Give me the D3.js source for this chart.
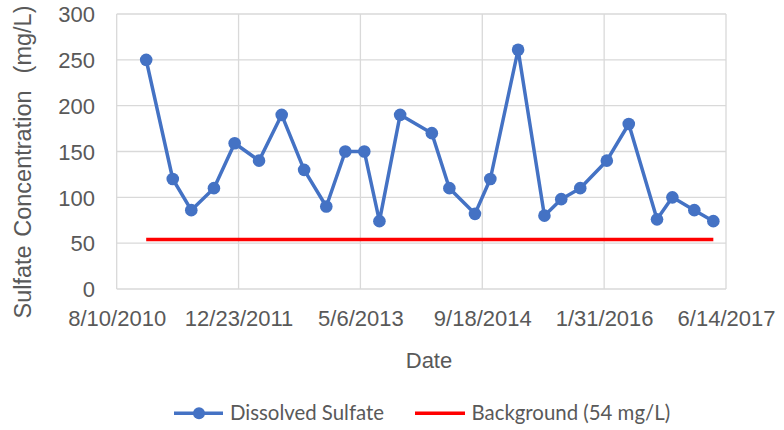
<!DOCTYPE html>
<html>
<head>
<meta charset="utf-8">
<script src="https://cdn.jsdelivr.net/npm/d3@7"></script>
<style>
  html, body { margin: 0; padding: 0; background: #fff; }
  svg text { white-space: pre; }
</style>
</head>
<body>
<svg id="chart" width="784" height="430"></svg>
<script>
const sampleDates = [
  "2010-12-09","2011-03-28","2011-06-12","2011-09-13","2011-12-07","2012-03-16",
  "2012-06-17","2012-09-17","2012-12-17","2013-03-05","2013-05-22","2013-07-23",
  "2013-10-16","2014-02-23","2014-05-06","2014-08-19","2014-10-21","2015-02-12",
  "2015-05-31","2015-08-08","2015-10-25","2016-02-11","2016-05-11","2016-09-04",
  "2016-11-06","2017-02-04","2017-04-23"
];
const sulfateValues = [
  250, 120, 86, 110, 159, 140,
  190, 130, 90, 150, 150, 74,
  190, 170, 110, 82, 120, 261,
  80, 98, 110, 140, 180, 76,
  100, 86, 74
];
const backgroundValue = 54;
const xTickDates = ["2010-08-10","2011-12-23","2013-05-06","2014-09-18","2016-01-31","2017-06-14"];
const yTickValues = [0, 50, 100, 150, 200, 250, 300];
const seriesNames = ["Dissolved Sulfate", "Background (54 mg/L)"];
const xTitle = "Date";
const yTitle = "Sulfate Concentration  (mg/L)";

(function () {
const parse = d3.utcParse("%Y-%m-%d");
const data = sampleDates.map((d, i) => ({ date: parse(d), value: sulfateValues[i] }));
const xTicks = xTickDates.map(parse);

const svg = d3.select("#chart");
const pLeft = 116.7, pRight = 726, pTop = 14, pBottom = 289;
const textColor = "#595959";
const gridColor = "#d9d9d9";
const blue = "#4472C4";
const red = "#FF0000";

const x = d3.scaleUtc().domain([xTicks[0], xTicks[xTicks.length - 1]]).range([pLeft, pRight]);
const y = d3.scaleLinear().domain([0, 300]).range([pBottom, pTop]);

const fmt = d => `${d.getUTCMonth() + 1}/${d.getUTCDate()}/${d.getUTCFullYear()}`;

// gridlines
const g = svg.append("g");
g.selectAll("line.h").data(yTickValues).join("line")
  .attr("x1", pLeft).attr("x2", pRight)
  .attr("y1", d => y(d)).attr("y2", d => y(d))
  .attr("stroke", gridColor).attr("stroke-width", 1.3);
g.selectAll("line.v").data(xTicks).join("line")
  .attr("x1", d => x(d)).attr("x2", d => x(d))
  .attr("y1", pTop).attr("y2", pBottom)
  .attr("stroke", gridColor).attr("stroke-width", 1.3);

// axes (labels only)
const yAxis = d3.axisLeft(y).tickValues(yTickValues).tickSize(0).tickPadding(0);
const ya = svg.append("g").attr("transform", `translate(95,0)`).call(yAxis);
ya.select(".domain").remove();
ya.selectAll("text").attr("fill", textColor)
  .style("font-family", "Liberation Sans, Arial, sans-serif").style("font-size", "22px")
  .attr("x", 0).attr("dy", "0.35em");

const xAxis = d3.axisBottom(x).tickValues(xTicks).tickFormat(fmt).tickSize(0).tickPadding(0);
const xa = svg.append("g").attr("transform", `translate(0,${pBottom})`).call(xAxis);
xa.select(".domain").remove();
xa.selectAll("text").attr("fill", textColor)
  .style("font-family", "Liberation Sans, Arial, sans-serif").style("font-size", "22px")
  .attr("y", 37).attr("dy", 0);

// titles
svg.append("text").attr("x", 429).attr("y", 368).attr("text-anchor", "middle")
  .attr("fill", textColor).style("font-family", "Liberation Sans, Arial, sans-serif")
  .style("font-size", "22px").text(xTitle);
svg.append("text").attr("transform", "translate(31,162) rotate(-90)").attr("text-anchor", "middle")
  .attr("fill", textColor).style("font-family", "Liberation Sans, Arial, sans-serif")
  .style("font-size", "23.5px").style("word-spacing", "2px").text(yTitle);

// background line
svg.append("line")
  .attr("x1", x(data[0].date)).attr("x2", x(data[data.length - 1].date))
  .attr("y1", y(backgroundValue)).attr("y2", y(backgroundValue))
  .attr("stroke", red).attr("stroke-width", 3.5);

// sulfate series
const line = d3.line().x(d => x(d.date)).y(d => y(d.value));
svg.append("path").datum(data).attr("d", line)
  .attr("fill", "none").attr("stroke", blue).attr("stroke-width", 3.5).attr("stroke-linejoin", "round");
svg.selectAll("circle.pt").data(data).join("circle")
  .attr("cx", d => x(d.date)).attr("cy", d => y(d.value)).attr("r", 6.3).attr("fill", blue);

// legend
const ly = 413.3;
svg.append("line").attr("x1", 174).attr("x2", 223).attr("y1", ly).attr("y2", ly)
  .attr("stroke", blue).attr("stroke-width", 3.5);
svg.append("circle").attr("cx", 199).attr("cy", ly).attr("r", 6).attr("fill", blue);
svg.append("text").attr("x", 230).attr("y", ly).attr("dy", "0.35em").attr("fill", textColor)
  .style("font-family", "Lato, sans-serif").style("font-size", "20.4px").text(seriesNames[0]);
svg.append("line").attr("x1", 415).attr("x2", 465).attr("y1", ly).attr("y2", ly)
  .attr("stroke", red).attr("stroke-width", 3.5);
svg.append("text").attr("x", 471.5).attr("y", ly).attr("dy", "0.35em").attr("fill", textColor)
  .style("font-family", "Lato, sans-serif").style("font-size", "20.4px").text(seriesNames[1]);
})();
</script>
</body>
</html>
